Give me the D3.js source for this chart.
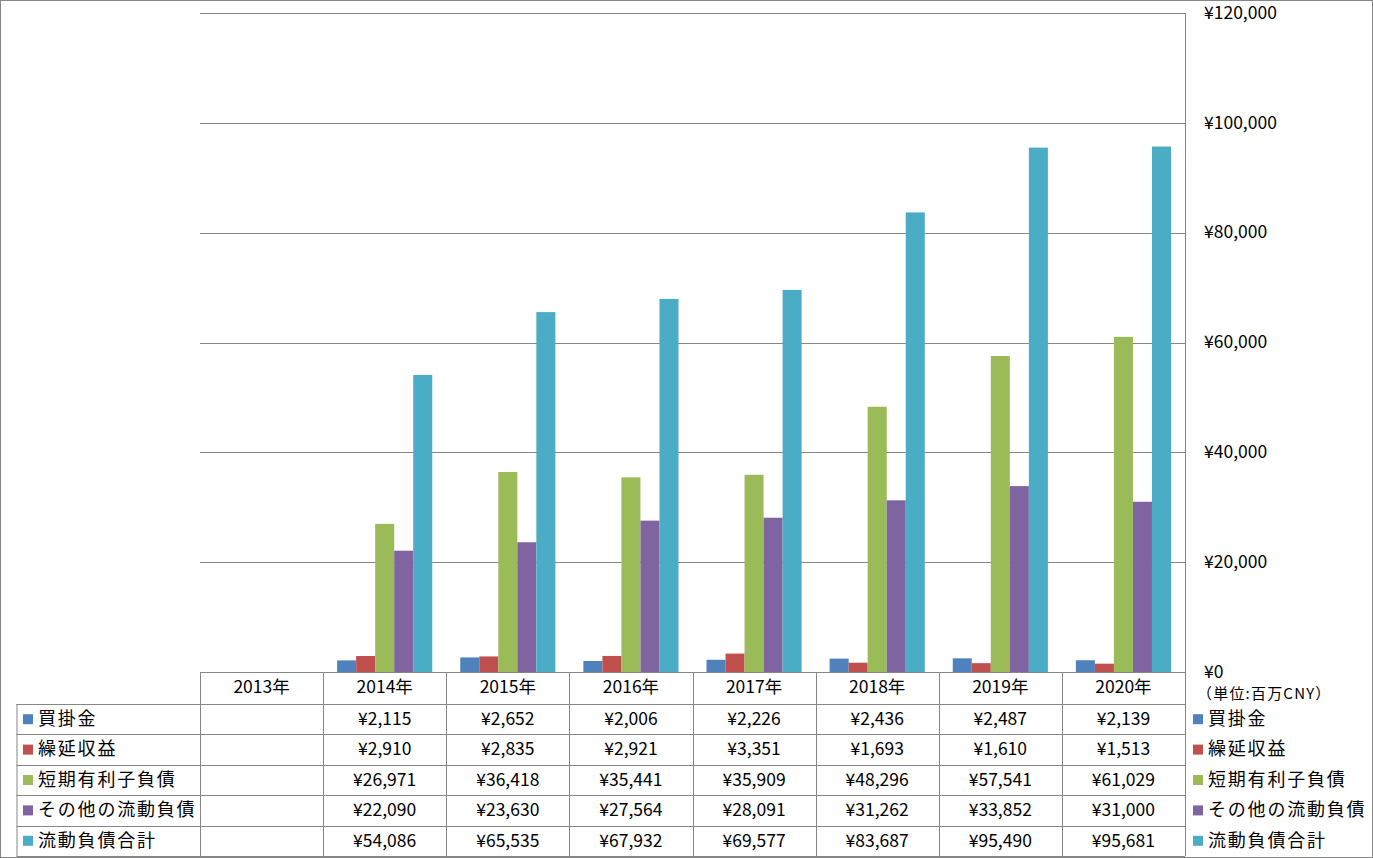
<!DOCTYPE html>
<html><head><meta charset="utf-8">
<script src="https://cdn.jsdelivr.net/npm/d3@7/dist/d3.min.js"></script>
<style>
html,body{margin:0;padding:0;background:#fff;}
svg text{font-family:"Noto Sans CJK JP","Noto Sans",sans-serif;fill:#000;}
</style></head>
<body><svg id="c" width="1373" height="858"></svg>
<script>
const years = ["2013年","2014年","2015年","2016年","2017年","2018年","2019年","2020年"];
const seriesNames = ["買掛金","繰延収益","短期有利子負債","その他の流動負債","流動負債合計"];
const colors = ["#4F81BD","#C0504D","#9BBB59","#8064A2","#4BACC6"];
const kaikake   = [null,2115,2652,2006,2226,2436,2487,2139];
const kurinobe  = [null,2910,2835,2921,3351,1693,1610,1513];
const tanki     = [null,26971,36418,35441,35909,48296,57541,61029];
const sonota    = [null,22090,23630,27564,28091,31262,33852,31000];
const goukei    = [null,54086,65535,67932,69577,83687,95490,95681];
const yTicks = [0,20000,40000,60000,80000,100000,120000];
const unitLabel = "（単位:百万CNY）";
const seriesValues = [kaikake,kurinobe,tanki,sonota,goukei];

const svg = d3.select("#c");
const L=200, R=1185, T=13, B=672;
const grid="#868686";

svg.append("rect").attr("x",0.5).attr("y",0.5).attr("width",1372).attr("height",857)
  .attr("fill","none").attr("stroke",grid);

const x0 = d3.scaleBand().domain(years).range([L,R]).padding(0);
const x1 = d3.scaleBand().domain(seriesNames).range([14, x0.bandwidth()-14]).padding(0);
const y = d3.scaleLinear().domain([0,120000]).range([B,T]);
const fmt = v => "¥" + d3.format(",")(v);

// gridlines
svg.append("g").selectAll("line").data(yTicks).join("line")
  .attr("x1",L).attr("x2",R).attr("y1",d=>Math.round(y(d))+0.5).attr("y2",d=>Math.round(y(d))+0.5)
  .attr("stroke",grid).attr("stroke-width",1);
// right axis line
svg.append("line").attr("x1",R+0.5).attr("x2",R+0.5).attr("y1",T).attr("y2",856)
  .attr("stroke",grid);

// axis labels
const axis = d3.axisRight(y).tickValues(yTicks).tickFormat(fmt).tickSize(0).tickPadding(19);
const ag = svg.append("g").attr("transform",`translate(${R},0)`).call(axis);
ag.select(".domain").remove();
ag.selectAll("text").attr("font-size",17.5).attr("dy","0.3em").style("font-family",'"Noto Sans CJK JP","Noto Sans",sans-serif');
svg.append("text").attr("x",1197).attr("y",695).attr("dominant-baseline","middle")
  .attr("font-size",15).attr("letter-spacing",1.2).text(unitLabel);

// bars
seriesNames.forEach((s,si)=>{
  svg.append("g").selectAll("rect").data(years.map((yr,i)=>({yr,v:seriesValues[si][i]})).filter(d=>d.v!=null))
    .join("rect")
    .attr("x",d=>x0(d.yr)+x1(s))
    .attr("width",x1.bandwidth())
    .attr("y",d=>y(d.v))
    .attr("height",d=>B-y(d.v))
    .attr("fill",colors[si]);
});

// table
const rowTop = [704,734.4,764.8,795.2,825.6];
const rowH = 30.4;
const TL = 16.5;
const tg = svg.append("g");
years.forEach((yr,i)=>{
  const xx = Math.round(x0(yr))+0.5;
  tg.append("line").attr("x1",xx).attr("x2",xx).attr("y1",B).attr("y2",856).attr("stroke",grid);
  tg.append("text").attr("x",x0(yr)+x0.bandwidth()/2).attr("y",688).attr("text-anchor","middle")
    .attr("dominant-baseline","middle").attr("font-size",17.5).text(yr);
});
rowTop.concat([856]).forEach(yy=>{
  tg.append("line").attr("x1",TL).attr("x2",R).attr("y1",Math.round(yy)+0.5).attr("y2",Math.round(yy)+0.5).attr("stroke",grid);
});
tg.append("line").attr("x1",TL+0.5).attr("x2",TL+0.5).attr("y1",704).attr("y2",856).attr("stroke",grid);

seriesNames.forEach((s,si)=>{
  const cy = rowTop[si]+rowH/2;
  tg.append("rect").attr("x",23).attr("y",cy-5).attr("width",10).attr("height",10).attr("fill",colors[si]);
  tg.append("text").attr("x",38).attr("y",cy+1).attr("dominant-baseline","middle").attr("font-size",18)
    .attr("letter-spacing",1.8).text(s);
  tg.append("rect").attr("x",1193).attr("y",cy-5).attr("width",10).attr("height",10).attr("fill",colors[si]);
  tg.append("text").attr("x",1208).attr("y",cy+1).attr("dominant-baseline","middle").attr("font-size",18)
    .attr("letter-spacing",1.8).text(s);
  years.forEach((yr,i)=>{
    const v = seriesValues[si][i];
    if(v==null) return;
    tg.append("text").attr("x",x0(yr)+x0.bandwidth()/2).attr("y",cy+1).attr("text-anchor","middle")
      .attr("dominant-baseline","middle").attr("font-size",17.5).text(fmt(v));
  });
});
</script></body></html>
